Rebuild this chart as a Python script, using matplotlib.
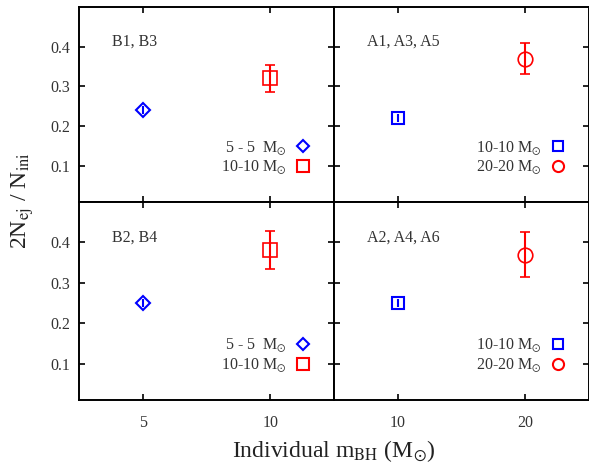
import matplotlib
matplotlib.use("Agg")
import matplotlib.pyplot as plt

plt.rcParams['font.family'] = ['Liberation Serif', 'DejaVu Serif']
plt.rcParams['mathtext.fontset'] = 'stix'

# panel data: x = individual BH mass, y = 2Nej/Nini, err = error bar
panel_names = ['B1, B3', 'A1, A3, A5', 'B2, B4', 'A2, A4, A6']
blue_x = [5, 10, 5, 10]
blue_y = [0.24, 0.22, 0.25, 0.25]
blue_err = [0.01, 0.01, 0.01, 0.01]
red_x = [10, 20, 10, 20]
red_y = [0.32, 0.37, 0.38, 0.37]
red_err = [0.035, 0.04, 0.047, 0.056]
blue_labels = ['5 - 5  M$_{\\odot}$', '10-10 M$_{\\odot}$', '5 - 5  M$_{\\odot}$', '10-10 M$_{\\odot}$']
red_labels = ['10-10 M$_{\\odot}$', '20-20 M$_{\\odot}$', '10-10 M$_{\\odot}$', '20-20 M$_{\\odot}$']
blue_mk = ['D', 's', 'D', 's']
red_mk = ['s', 'o', 's', 'o']
xlims = [(2.5, 12.5), (5, 25), (2.5, 12.5), (5, 25)]
xticks = [[5, 10], [10, 20], [5, 10], [10, 20]]
yticks = [0.1, 0.2, 0.3, 0.4]

fig = plt.figure(figsize=(5.89, 4.66), dpi=100)
W = 0.433
pos = [(0.134, 0.5665, W, 0.419), (0.134 + W, 0.5665, W, 0.419),
       (0.134, 0.1416, W, 0.425), (0.134 + W, 0.1416, W, 0.425)]

txtc = '#333333'
for i in range(4):
    ax = fig.add_axes(pos[i])
    bsize = 7 if blue_mk[i] == 'D' else 8
    ax.errorbar(blue_x[i], blue_y[i], yerr=blue_err[i], fmt=blue_mk[i], color='blue',
                mfc='none', mec='blue', mew=1.5, ms=bsize, elinewidth=1.5, capsize=0)
    ax.errorbar(red_x[i], red_y[i], yerr=red_err[i], fmt=red_mk[i], color='red',
                mfc='none', mec='red', mew=1.2, ms=10.5, elinewidth=1.5, capsize=3.5, capthick=1.5)
    # legend handles
    hb, = ax.plot([], [], blue_mk[i], mfc='none', mec='blue', mew=1.5, ms=bsize - 1, label=blue_labels[i])
    hr, = ax.plot([], [], red_mk[i], mfc='none', mec='red', mew=1.5, ms=8, label=red_labels[i])
    leg = ax.legend(handles=[hb, hr], loc='lower right', bbox_to_anchor=(0.94, 0.09),
                    frameon=False, markerfirst=False, fontsize=11.5, handlelength=1.0,
                    handletextpad=0.5, labelspacing=0.15, borderpad=0)
    for t in leg.get_texts():
        t.set_color(txtc)
    ax.text(0.13, 0.8, panel_names[i], transform=ax.transAxes, fontsize=11.5, color=txtc)
    ax.set_xlim(*xlims[i])
    ax.set_ylim(0.01, 0.5)
    ax.set_xticks(xticks[i])
    ax.set_yticks(yticks)
    ax.tick_params(direction='in', top=True, right=True, length=4, width=1.2,
                   labelsize=11.5, labelcolor=txtc, pad=6)
    for s in ax.spines.values():
        s.set_linewidth(1.4)
    if i < 2:
        ax.set_xticklabels([])
    else:
        ax.tick_params(axis='x', pad=11)
    if i % 2 == 1:
        ax.set_yticklabels([])

fig.text(0.038, 0.57, '2N$_{\\mathrm{ej}}$ / N$_{\\mathrm{ini}}$', rotation=90,
         ha='center', va='center', fontsize=17, color='#222222')
fig.text(0.567, 0.033, 'Individual m$_{\\mathrm{BH}}$ (M$_{\\odot}$)', ha='center', va='center',
         fontsize=17, color='#222222')

fig.savefig('out.png', dpi=100)
